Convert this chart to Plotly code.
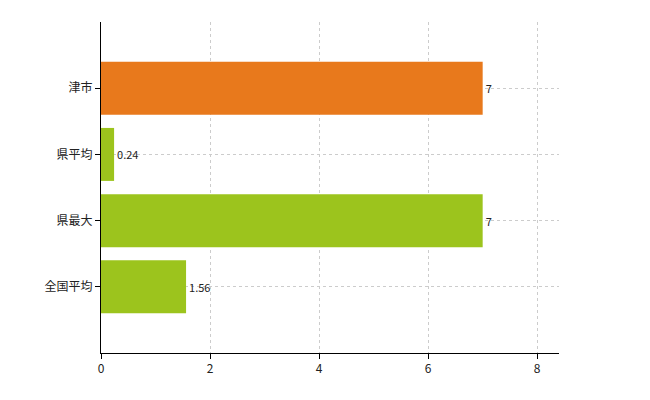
import plotly.graph_objects as go

categories = ["津市", "県平均", "県最大", "全国平均"]
values = [7, 0.24, 7, 1.56]
labels = ["7", "0.24", "7", "1.56"]
colors = ["#E8791C", "#9CC41D", "#9CC41D", "#9CC41D"]

fig = go.Figure(go.Bar(
    y=categories, x=values, orientation="h", width=0.8,
    marker=dict(color=colors, line=dict(width=0)),
    text=labels, textposition="outside", cliponaxis=False,
    textfont=dict(size=11, color="#222", family="Noto Sans CJK JP"),
))
fig.update_layout(
    width=650, height=400, margin=dict(l=93, r=99, t=14, b=55),
    plot_bgcolor="white", paper_bgcolor="white", showlegend=False,
    font=dict(family="Noto Sans CJK JP", size=12, color="#222"),
)
fig.update_xaxes(range=[0, 8.4], dtick=2, showgrid=True, gridcolor="#cccccc",
                 griddash="dot", showline=True, linecolor="black", ticks="outside",
                 ticklen=5, tickcolor="black", zeroline=False)
fig.update_yaxes(categoryorder="array", categoryarray=categories, range=[3.999, -1],
                 showgrid=True, gridcolor="#cccccc", griddash="dot", showline=True,
                 linecolor="black", ticks="outside", ticklen=5, tickcolor="black")
fig.write_html("out.html")
